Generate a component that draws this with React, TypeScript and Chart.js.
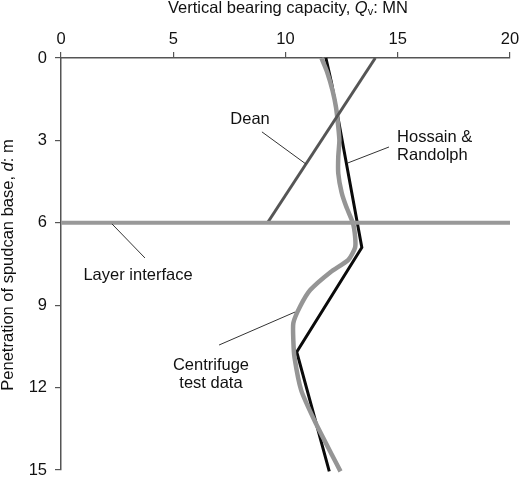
import { useEffect, useRef } from "react";
import { Chart, registerables } from "chart.js";

Chart.register(...registerables);

// bearing capacity (MN) vs penetration depth (m)
const centrifugeQ = [11.6, 11.85, 12.1, 12.25, 12.35, 12.4, 12.35, 12.35, 12.5, 12.7, 13.0, 13.1, 13.1, 12.8, 12.0, 11.1, 10.65, 10.35, 10.35, 10.4, 10.7, 11.35, 12.1, 12.45];
const centrifugeD = [0, 0.5, 1.2, 1.8, 2.5, 3.0, 3.6, 4.2, 4.9, 5.4, 6.0, 6.5, 6.9, 7.35, 7.8, 8.45, 9.05, 9.65, 10.3, 10.9, 12.1, 13.3, 14.5, 15.05];
const hossainQ = [11.8, 12.05, 12.3, 13.4, 10.5, 11.95];
const hossainD = [0, 0.9, 2.0, 6.9, 10.7, 15.05];
const deanQ = [14.0, 9.2];
const deanD = [0, 6];
const interfaceQ = [0, 20];
const interfaceD = [6, 6];

const xTicks = [0, 5, 10, 15, 20];
const yTicks = [0, 3, 6, 9, 12, 15];

// labels with leader lines, in data units
const notes = [
  { lines: ["Dean"], x: 8.42, d: 2.22, align: "center", from: [8.95, 2.69], to: [10.91, 3.86] },
  { lines: ["Hossain &", "Randolph"], x: 14.97, d: 2.88, align: "left", from: [14.61, 3.24], to: [12.78, 3.82] },
  { lines: ["Layer interface"], x: 3.43, d: 7.9, align: "center", from: [3.74, 7.28], to: [2.27, 6.04] },
  { lines: ["Centrifuge", "test data"], x: 6.68, d: 11.18, align: "center", from: [7.04, 10.45], to: [10.42, 9.25] },
];

const FONT = "'Liberation Sans', Arial, sans-serif";
const SIZE = 16.5;
const pts = (xs: number[], ys: number[]) => xs.map((x, i) => ({ x, y: ys[i] }));

const notesPlugin = {
  id: "notes",
  afterDatasetsDraw(chart: any) {
    const { ctx, scales } = chart;
    const px = (v: number) => scales.x.getPixelForValue(v);
    const py = (v: number) => scales.y.getPixelForValue(v);
    ctx.save();
    ctx.strokeStyle = "#333";
    ctx.lineWidth = 1;
    ctx.fillStyle = "#111";
    ctx.font = `${SIZE}px ${FONT}`;
    ctx.textBaseline = "middle";
    for (const n of notes) {
      ctx.beginPath();
      ctx.moveTo(px(n.from[0]), py(n.from[1]));
      ctx.lineTo(px(n.to[0]), py(n.to[1]));
      ctx.stroke();
      ctx.textAlign = n.align;
      n.lines.forEach((t, i) => ctx.fillText(t, px(n.x), py(n.d) + i * 18.5));
    }

    // axis titles with italic symbols
    const drawParts = (parts: [string, string, number][], cx: number, cy: number, rot: number) => {
      ctx.save();
      ctx.translate(cx, cy);
      ctx.rotate(rot);
      ctx.textAlign = "left";
      const fonts = parts.map(([, style, size]) => `${style} ${size}px ${FONT}`);
      let w = 0;
      parts.forEach(([t], i) => {
        ctx.font = fonts[i];
        w += ctx.measureText(t).width;
      });
      let x = -w / 2;
      parts.forEach(([t, , size], i) => {
        ctx.font = fonts[i];
        const dy = size < SIZE ? 4 : 0;
        ctx.fillText(t, x, dy);
        x += ctx.measureText(t).width;
      });
      ctx.restore();
    };
    drawParts(
      [["Vertical bearing capacity, ", "normal", SIZE], ["Q", "italic", SIZE], ["v", "normal", 11], [": MN", "normal", SIZE]],
      288, 8, 0
    );
    drawParts(
      [["Penetration of spudcan base, ", "normal", SIZE], ["d", "italic", SIZE], [": m", "normal", SIZE]],
      8, 265, -Math.PI / 2
    );
    ctx.restore();
  },
};

export default function App() {
  const canvasRef = useRef<HTMLCanvasElement>(null);
  const chartRef = useRef<Chart | null>(null);

  useEffect(() => {
    if (!canvasRef.current) return;
    const line = (data: any, color: string, width: number) => ({
      data,
      showLine: true,
      borderColor: color,
      backgroundColor: color,
      borderWidth: width,
      pointRadius: 0,
      tension: 0,
      clip: false as const,
    });

    chartRef.current?.destroy();
    chartRef.current = new Chart(canvasRef.current, {
      type: "scatter",
      data: {
        datasets: [
          line(pts(interfaceQ, interfaceD), "#999", 4),
          line(pts(deanQ, deanD), "#555", 3),
          { ...line(pts(centrifugeQ, centrifugeD), "#959595", 4.5), tension: 0.2 },
          line(pts(hossainQ, hossainD), "#0a0a0a", 3),
        ] as any,
      },
      options: {
        animation: false,
        responsive: false,
        devicePixelRatio: 1,
        layout: { padding: { top: 0, left: 0, right: 10, bottom: 10 } },
        plugins: { legend: { display: false }, tooltip: { enabled: false } },
        scales: {
          x: {
            type: "linear",
            position: "top",
            min: 0,
            max: 20,
            afterBuildTicks: (s: any) => { s.ticks = xTicks.map((v) => ({ value: v })); },
            afterFit: (s: any) => { s.height = 58; s.paddingLeft = 0; s.paddingRight = 0; },
            ticks: { color: "#111", padding: 3, font: { size: SIZE, family: FONT } },
            grid: { drawOnChartArea: false, drawTicks: true, tickLength: 6, color: "#555", lineWidth: 1.2 },
            border: { color: "#555", width: 1.5 },
          },
          y: {
            type: "linear",
            reverse: true,
            min: 0,
            max: 15,
            afterBuildTicks: (s: any) => { s.ticks = yTicks.map((v) => ({ value: v })); },
            afterFit: (s: any) => { s.width = 61; s.paddingTop = 0; s.paddingBottom = 0; },
            ticks: { color: "#111", padding: 8, font: { size: SIZE, family: FONT } },
            grid: { drawOnChartArea: false, drawTicks: true, tickLength: 6, color: "#555", lineWidth: 1.2 },
            border: { color: "#555", width: 1.5 },
          },
        },
      },
      plugins: [notesPlugin],
    });

    return () => chartRef.current?.destroy();
  }, []);

  return (
    <div style={{ position: "fixed", left: 0, top: 0, width: 520, height: 480, background: "#fff" }}>
      <canvas ref={canvasRef} width={520} height={480} />
    </div>
  );
}
